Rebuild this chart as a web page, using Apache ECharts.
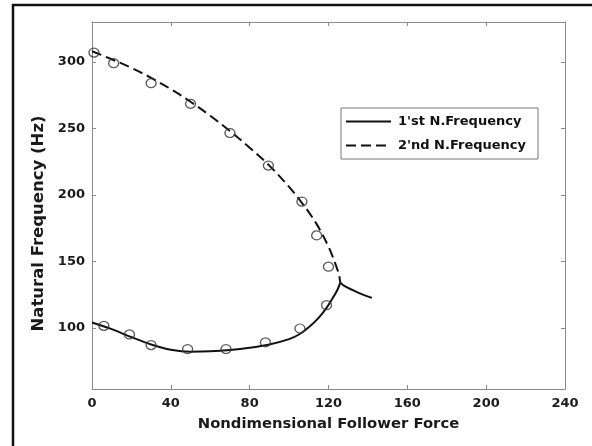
<!DOCTYPE html>
<html>
<head>
<meta charset="utf-8">
<script src="https://cdn.jsdelivr.net/npm/echarts@6/dist/echarts.min.js"></script>
<style>html,body{margin:0;padding:0;background:#fff}#c{width:592px;height:446px}</style>
</head>
<body>
<div id="c"></div>
<script>
// Data
var xTicks = [0, 40, 80, 120, 160, 200, 240];
var yTicks = [100, 150, 200, 250, 300];

// 1'st natural frequency (solid)
var freq1 = [[0,104],[10,99],[20,93],[30,87.5],[40,83.5],[50,82],[60,82.3],[70,83.3],[80,85],[90,87.5],[100,91.5],[105,95],[110,100.5],[115,107.5],[119,115],[122,122],[124.5,128.5],[126,134]];
// Branch after coalescence
var freq1Branch = [[126,134],[128,131.5],[135,126.5],[142,122.5]];
// 2'nd natural frequency (dashed)
var freq2 = [[0,308],[10,302],[20,295.5],[30,288],[40,279.5],[50,270],[60,259.5],[70,248],[80,235.5],[90,222],[100,206],[106,195],[110,187],[114,178],[117,170],[120,161],[122,154],[124,146],[125.3,140],[126,134]];
// Circle markers
var marks1 = [[6,101.5],[19,95],[30,87],[48.5,84],[68,84],[88,89],[105.5,99.5],[119,117]];
var marks2 = [[1,307],[11,299],[30,284],[50,268.5],[70,246.5],[89.5,222],[106.5,195],[114,169.5],[120,146]];

var name1 = "1'st N.Frequency";
var name2 = "2'nd N.Frequency";
var FONT = 'DejaVu Sans';

var chart = echarts.init(document.getElementById('c'), null, {renderer:'canvas'});
var axisCol = '#8a8a8a';
var lblStyle = {color:'#1a1a1a', fontFamily:FONT, fontWeight:'bold', fontSize:13};
chart.setOption({
  animation:false,
  backgroundColor:'#fff',
  graphic:[{type:'rect', shape:{x:13, y:5, width:1000, height:1000}, style:{fill:'none', stroke:'#111', lineWidth:2.5}, silent:true}],
  grid:{left:92, top:22, right:27, bottom:57, containLabel:false},
  legend:{
    orient:'vertical', left:341, top:108,
    data:[name1, name2],
    itemWidth:45, itemHeight:14, itemGap:11,
    padding:[7, 12, 7, 4],
    borderColor:'#777', borderWidth:1, backgroundColor:'#fff',
    itemStyle:{color:'rgba(0,0,0,0)', borderWidth:0, opacity:0},
    textStyle:{color:'#111', fontFamily:FONT, fontWeight:'bold', fontSize:13, padding:[0,0,0,2]}
  },
  xAxis:[{
    type:'value', min:0, max:240, interval:40, position:'bottom',
    name:'Nondimensional Follower Force', nameLocation:'middle', nameGap:28,
    nameTextStyle:{color:'#1a1a1a', fontFamily:FONT, fontWeight:'bold', fontSize:14.8},
    axisLine:{show:true, onZero:false, lineStyle:{color:axisCol, width:1}},
    axisTick:{show:true, inside:true, length:4, lineStyle:{color:axisCol}},
    axisLabel:Object.assign({margin:8, formatter:function(v){return xTicks.indexOf(v)>=0?String(v):'';}}, lblStyle),
    splitLine:{show:false}
  },{
    type:'value', min:0, max:240, interval:40, position:'top',
    axisLine:{show:true, onZero:false, lineStyle:{color:axisCol, width:1}},
    axisTick:{show:true, inside:true, length:4, lineStyle:{color:axisCol}},
    axisLabel:{show:false}, splitLine:{show:false}
  }],
  yAxis:[{
    type:'value', min:54, max:330, position:'left',
    name:'Natural Frequency (Hz)', nameLocation:'middle', nameGap:45, nameRotate:90,
    nameTextStyle:{color:'#1a1a1a', fontFamily:FONT, fontWeight:'bold', fontSize:16.5, padding:[0,36,0,0]},
    axisLine:{show:true, onZero:false, lineStyle:{color:axisCol, width:1}},
    axisTick:{show:true, inside:true, length:4, customValues:yTicks, lineStyle:{color:axisCol}},
    axisLabel:Object.assign({margin:7, customValues:yTicks}, lblStyle),
    splitLine:{show:false}
  },{
    type:'value', min:54, max:330, position:'right',
    axisLine:{show:true, onZero:false, lineStyle:{color:axisCol, width:1}},
    axisTick:{show:true, inside:true, length:4, customValues:yTicks, lineStyle:{color:axisCol}},
    axisLabel:{show:false}, splitLine:{show:false}
  }],
  series:[
    {name:name1, type:'line', data:freq1, smooth:0.35, symbol:'none', showSymbol:false,
     lineStyle:{color:'#111', width:2, type:'solid'}, itemStyle:{color:'#111'}, z:3},
    {name:name1, type:'line', data:freq1Branch, smooth:0.2, symbol:'none', showSymbol:false,
     lineStyle:{color:'#111', width:2, type:'solid'}, itemStyle:{color:'#111'}, z:3},
    {name:name2, type:'line', data:freq2, smooth:0.35, symbol:'none', showSymbol:false,
     lineStyle:{color:'#111', width:2, type:[10,5]}, itemStyle:{color:'#111'}, z:3},
    {name:'m1', type:'scatter', data:marks1, symbol:'circle', symbolSize:[10,9],
     itemStyle:{color:'rgba(255,255,255,0)', borderColor:'#333', borderWidth:1.3}, z:4},
    {name:'m2', type:'scatter', data:marks2, symbol:'circle', symbolSize:[10,9],
     itemStyle:{color:'rgba(255,255,255,0)', borderColor:'#333', borderWidth:1.3}, z:4}
  ]
});
</script>
</body>
</html>
